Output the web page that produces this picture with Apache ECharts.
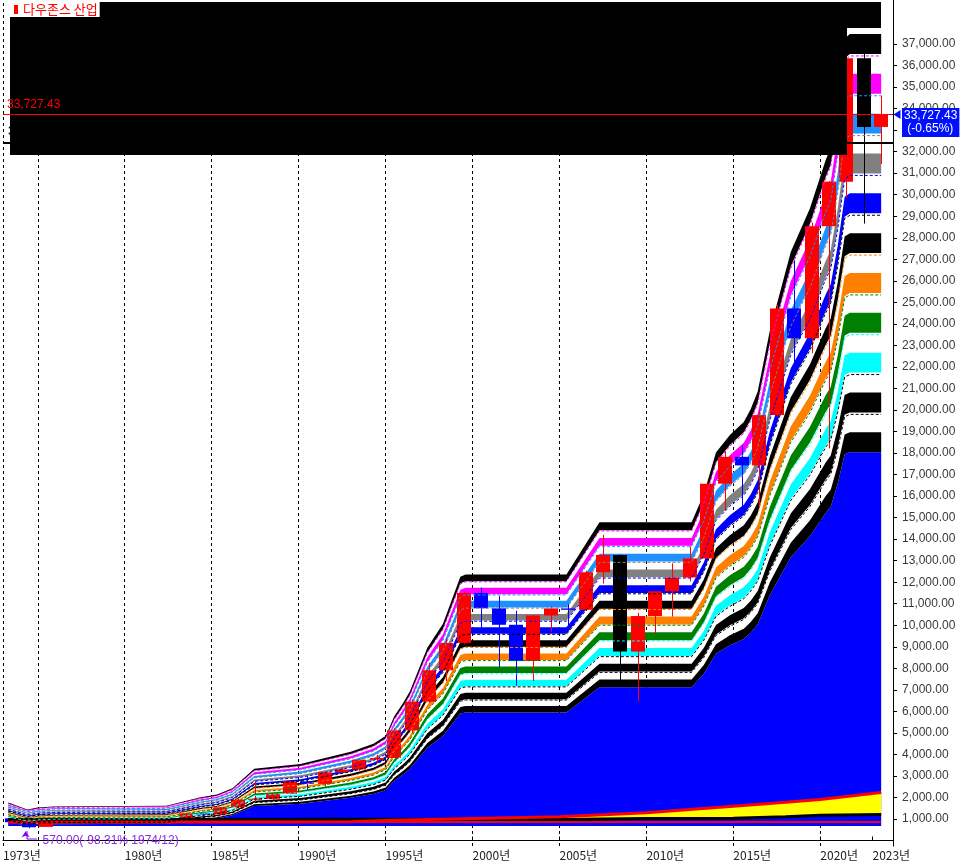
<!DOCTYPE html>
<html>
<head>
<meta charset="utf-8">
<script src="https://cdn.jsdelivr.net/npm/echarts@6/dist/echarts.min.js"></script>
<style>
  html, body { margin: 0; padding: 0; background: #fff; }
  #chart { width: 961px; height: 864px; }
</style>
</head>
<body>
<div id="chart"></div>
<script>
// yearly candles, Dow Jones Industrial
const years = [1973, 1974, 1975, 1976, 1977, 1978, 1979, 1980, 1981, 1982, 1983, 1984, 1985, 1986, 1987, 1988, 1989,
  1990, 1991, 1992, 1993, 1994, 1995, 1996, 1997, 1998, 1999, 2000, 2001, 2002, 2003, 2004, 2005, 2006, 2007, 2008,
  2009, 2010, 2011, 2012, 2013, 2014, 2015, 2016, 2017, 2018, 2019, 2020, 2021, 2022, 2023];
const opens = [1031, 851, 632, 859, 1004, 831, 805, 839, 964, 875, 1047, 1259, 1212, 1547, 1896, 1939, 2169,
  2753, 2634, 3169, 3301, 3754, 3834, 5117, 6448, 7908, 9181, 11497, 10788, 10022, 8342, 10454, 10783, 10718, 12463, 13262,
  8776, 10428, 11577, 12218, 13104, 16577, 17823, 17425, 19763, 24719, 23327, 28538, 30606, 36338, 33147];
const closes = [851, 616, 852, 1004, 831, 805, 839, 964, 875, 1047, 1259, 1212, 1547, 1896, 1939, 2169, 2753,
  2634, 3169, 3301, 3754, 3834, 5117, 6448, 7908, 9181, 11497, 10788, 10022, 8342, 10454, 10783, 10718, 12463, 13265, 8776,
  10428, 11578, 12218, 13104, 16577, 17823, 17425, 19763, 24719, 23327, 28538, 30606, 36338, 33147, 33727.43];
const lows = [788, 570, 632, 859, 801, 742, 796, 759, 824, 776, 1027, 1087, 1185, 1502, 1739, 1879, 2145,
  2365, 2470, 3137, 3242, 3593, 3832, 5000, 6392, 7400, 9121, 9654, 8062, 7197, 7417, 9708, 10000, 10661, 11939, 7450,
  6470, 9614, 10405, 12036, 13104, 15340, 15370, 15451, 19678, 21713, 22638, 18214, 29856, 28661, 31430];
const highs = [1052, 892, 882, 1015, 1000, 908, 898, 1001, 1025, 1071, 1288, 1287, 1554, 1956, 2747, 2184, 2792,
  3000, 3169, 3414, 3795, 3979, 5217, 6561, 8260, 9375, 11569, 11751, 11351, 10674, 10455, 10869, 10985, 12529, 14198, 13280,
  10581, 11586, 12877, 13662, 16588, 18103, 18352, 19988, 24876, 26952, 28702, 30638, 36680, 36953, 34600];
const blackYears = [2008, 2022];

// level envelope (top band)
const envYears = [1973.3, 1974.4, 1975.0, 1975.9, 1982.4, 1984.3, 1985.3, 1986.2, 1987.45, 1990.1, 1993.0, 1994.3,
  1995.0, 1995.5, 1996.0, 1996.4, 1997.4, 1998.3, 1999.3, 1999.6, 2005.4, 2007.3, 2012.6, 2013.3, 2014.0, 2014.8,
  2015.6, 2016.0, 2016.4, 2017.1, 2018.3, 2019.4, 2020.3, 2020.6, 2021.0, 2021.4, 2021.7, 2023.5];
const envTop = [1740, 1420, 1510, 1560, 1600, 1975, 2110, 2400, 3290, 3510, 4070, 4440,
  4800, 5700, 6300, 6850, 8850, 9950, 12100, 12200, 12200, 14600, 14600, 15900, 17800, 18600,
  19200, 19800, 20600, 23400, 27000, 29000, 31200, 31800, 34000, 36800, 37000, 37000];
const bandLevels = [1, 0.95, 0.9, 0.85, 0.8, 0.75, 0.7, 0.65, 0.6, 0.55, 0.5];
const bandColors = ['#000000', '#ff00ff', '#1e90ff', '#808080', '#0000ff', '#000000', '#ff8000', '#008000', '#00ffff', '#000000', '#000000'];
const bandHalf = 0.0125;
const dashLift = 0.035;
const blueFloor = 675;

// bottom lines
const bottomYears = [1973.3, 1990, 1993, 1995, 2000, 2005, 2010, 2015, 2018, 2020, 2023.5];
const upperRed = [865, 865, 870, 930, 1020, 1110, 1285, 1595, 1780, 1905, 2230];
const blackLine = [980, 985, 990, 990, 985, 980, 1025, 1040, 1100, 1180, 1215];
const lowerRed = [860, 860, 860, 860, 860, 860, 860, 860, 860, 860, 860];

// axes
const yTicks = [1000, 2000, 3000, 4000, 5000, 6000, 7000, 8000, 9000, 10000, 11000, 12000, 13000, 14000, 15000,
  16000, 17000, 18000, 19000, 20000, 21000, 22000, 23000, 24000, 25000, 26000, 27000, 28000, 29000, 30000,
  31000, 32000, 33000, 34000, 35000, 36000, 37000];
const xTicks = [1973, 1980, 1985, 1990, 1995, 2000, 2005, 2010, 2015, 2020, 2023];
const gridYears = [1973, 1975, 1980, 1985, 1990, 1995, 2000, 2005, 2010, 2015, 2020];

const lastPrice = 33727.43;
const changePct = -0.65;
const refLine = 32415;
const minLow = 570;
const minNote = '(-98.31% 1974/12)';

const fmt2 = v => v.toLocaleString('en-US', { minimumFractionDigits: 2, maximumFractionDigits: 2 });

var myChart = echarts.init(document.getElementById('chart'));

function polygonFrom(api, xs, top, bottom) {
  const up = xs.map((t, i) => api.coord([t, top[i]]));
  const dn = xs.map((t, i) => api.coord([t, bottom[i]])).reverse();
  return up.concat(dn);
}

const series = [];

// vertical dashed year lines
series.push({
  type: 'line', name: 'grid', data: [[1973, -254]], symbol: 'none', z: 1, silent: true,
  markLine: {
    z: 1, silent: true, symbol: ['none', 'none'], label: { show: false },
    lineStyle: { type: [3, 3], color: '#000', width: 1 },
    data: gridYears.map(y => ({ xAxis: y }))
  }
});

// blue area under the 50% band
series.push({
  type: 'custom', name: 'base', z: 2, silent: true,
  data: [[envYears[0], blueFloor]],
  renderItem: function (params, api) {
    const top = envTop.map(m => Math.max(blueFloor, m * (0.5 - bandHalf)));
    const bot = envTop.map(() => blueFloor);
    return { type: 'polygon', shape: { points: polygonFrom(api, envYears, top, bot) }, style: { fill: '#0000ff' } };
  }
});

// level bands
series.push({
  type: 'custom', name: 'bands', z: 2, silent: true,
  data: bandLevels.map(k => [envYears[0], envTop[0] * k]),
  renderItem: function (params, api) {
    const k = bandLevels[params.dataIndex];
    const top = envTop.map(m => m * (k + bandHalf));
    const bot = envTop.map(m => m * (k - bandHalf));
    return { type: 'polygon', shape: { points: polygonFrom(api, envYears, top, bot) }, style: { fill: bandColors[params.dataIndex] } };
  }
});

// yellow fill between black and red bottom lines
series.push({
  type: 'custom', name: 'yellow', z: 3, silent: true,
  data: [[bottomYears[0], blackLine[0]]],
  renderItem: function (params, api) {
    const top = upperRed.map((v, i) => Math.max(v, blackLine[i]));
    return { type: 'polygon', shape: { points: polygonFrom(api, bottomYears, top, blackLine) }, style: { fill: '#ffff00' } };
  }
});

// candles
series.push({
  type: 'custom', name: '다우존스 산업', z: 4,
  itemStyle: { color: '#ff0000' },
  data: years.map((y, i) => [y + 0.5, opens[i], closes[i], lows[i], highs[i]]),
  encode: { x: 0, y: [1, 2, 3, 4] },
  renderItem: function (params, api) {
    const i = params.dataIndex;
    const xv = api.value(0), o = api.value(1), c = api.value(2), l = api.value(3), h = api.value(4);
    const po = api.coord([xv, o]), pc = api.coord([xv, c]), pl = api.coord([xv, l]), ph = api.coord([xv, h]);
    const color = blackYears.indexOf(years[i]) >= 0 ? '#000000' : (c >= o ? '#ff0000' : '#0000ff');
    const w = Math.round(api.size([1, 0])[0] * 0.82);
    const cx = Math.round(po[0]);
    const top = Math.min(po[1], pc[1]);
    const hgt = Math.max(1, Math.abs(po[1] - pc[1]));
    return {
      type: 'group', children: [
        { type: 'line', shape: { x1: cx + 0.5, y1: ph[1], x2: cx + 0.5, y2: pl[1] }, style: { stroke: color, lineWidth: 1 } },
        { type: 'rect', shape: { x: cx - w / 2, y: top, width: w, height: hgt }, style: { fill: color } }
      ]
    };
  }
});

// bottom lines
[[lowerRed, '#ff0000', 2], [blackLine, '#000000', 3], [upperRed, '#ff0000', 3]].forEach(function (d) {
  series.push({
    type: 'line', z: 5, silent: true, symbol: 'none',
    data: bottomYears.map((t, i) => [t, d[0][i]]),
    lineStyle: { color: d[1], width: d[2] }
  });
});

// thin dashed level lines over the candles
bandLevels.forEach(function (k, j) {
  if (k >= 1) return;
  series.push({
    type: 'line', z: 6, silent: true, symbol: 'none',
    data: envYears.map((t, i) => [t, envTop[i] * (k + dashLift)]),
    lineStyle: { color: bandColors[j], width: 1, type: [3, 2] }
  });
});

// black reference line (under the black box)
series.push({
  type: 'line', name: 'ref', data: [[1973, -254]], symbol: 'none', z: 7, silent: true,
  markLine: {
    z: 7, silent: true, symbol: ['none', 'none'],
    lineStyle: { type: 'solid', color: '#000', width: 2 },
    label: { show: true, position: 'insideStartTop', distance: 5, color: '#000', fontFamily: 'Liberation Sans', fontSize: 12, formatter: p => fmt2(p.value) },
    data: [{ yAxis: refLine }]
  }
});

// last price line, tag and low note
series.push({
  type: 'line', name: 'price', data: [[1973, -254]], symbol: 'none', z: 20, silent: true,
  markLine: {
    z: 20, silent: true, symbol: ['none', 'none'],
    lineStyle: { type: 'solid', color: '#ff0000', width: 1 },
    data: [
      { yAxis: lastPrice, label: { show: true, position: 'insideStartTop', distance: 4, color: '#ff0000', fontFamily: 'Liberation Sans', fontSize: 12, formatter: p => fmt2(p.value) } },
      { yAxis: lastPrice, label: { show: true, position: 'end', distance: 9, offset: [0, 8], color: '#ffffff', backgroundColor: '#0010ff', padding: [2, 2, 1, 2], lineHeight: 13, fontFamily: 'Liberation Sans', fontSize: 12, formatter: p => fmt2(p.value) + '\n (' + changePct.toFixed(2) + '%)' } }
    ]
  },
  markPoint: {
    z: 20, silent: true,
    data: [
      { coord: [2024.18, lastPrice], symbol: 'triangle', symbolSize: [9, 7], symbolRotate: 90, symbolOffset: [4, 0], itemStyle: { color: '#0010ff' }, label: { show: false } },
      { coord: [1974.3, minLow], symbol: 'arrow', symbolSize: [6, 6], symbolOffset: [0, 3], itemStyle: { color: '#8000ff' },
        label: { show: true, position: 'right', offset: [8, 6], color: '#8a2be2', fontFamily: 'Liberation Sans', fontSize: 12, formatter: () => fmt2(minLow) + minNote } }
    ]
  }
});

myChart.setOption({
  animation: false,
  backgroundColor: '#ffffff',
  grid: { left: 3, right: 68, top: 0, bottom: 18, containLabel: false },
  legend: {
    left: 10, top: 2, z: 30, padding: [1, 2, 1, 4], itemGap: 2,
    backgroundColor: '#ffffff', icon: 'rect', itemWidth: 4, itemHeight: 9,
    textStyle: { color: '#ff0000', fontSize: 13, fontFamily: 'Noto Sans CJK KR' },
    data: [{ name: '다우존스 산업', itemStyle: { color: '#ff0000' } }]
  },
  xAxis: {
    type: 'value', min: 1973, max: 2024.18,
    axisLine: { show: true, lineStyle: { color: '#000' } },
    axisTick: { show: true, inside: true, length: 4, customValues: xTicks, lineStyle: { color: '#000' } },
    axisLabel: { customValues: xTicks, formatter: v => v + '년', align: 'left', margin: 3, color: '#222', fontSize: 12, fontFamily: 'Noto Sans CJK KR' },
    splitLine: { show: false }
  },
  yAxis: {
    type: 'value', position: 'right', min: -254, max: 39044,
    axisLine: { show: true, lineStyle: { color: '#000' } },
    axisTick: { show: true, length: 4, customValues: yTicks, lineStyle: { color: '#000' } },
    axisLabel: { customValues: yTicks, formatter: v => fmt2(v), margin: 9, color: '#3a3a3a', fontSize: 12, fontFamily: 'Liberation Sans' },
    splitLine: { show: false }
  },
  graphic: [
    { type: 'rect', z: 10, shape: { x: 10, y: 2, width: 837, height: 153 }, style: { fill: '#000' } },
    { type: 'rect', z: 10, shape: { x: 847, y: 2, width: 34, height: 26 }, style: { fill: '#000' } },
    { type: 'polyline', z: 10, shape: { points: [[27, 831], [27, 839], [37, 839]] }, style: { stroke: '#8000ff', lineWidth: 1, fill: null } }
  ],
  series: series
});

window.addEventListener('resize', () => {
  myChart.resize();
});
</script>
</body>
</html>
